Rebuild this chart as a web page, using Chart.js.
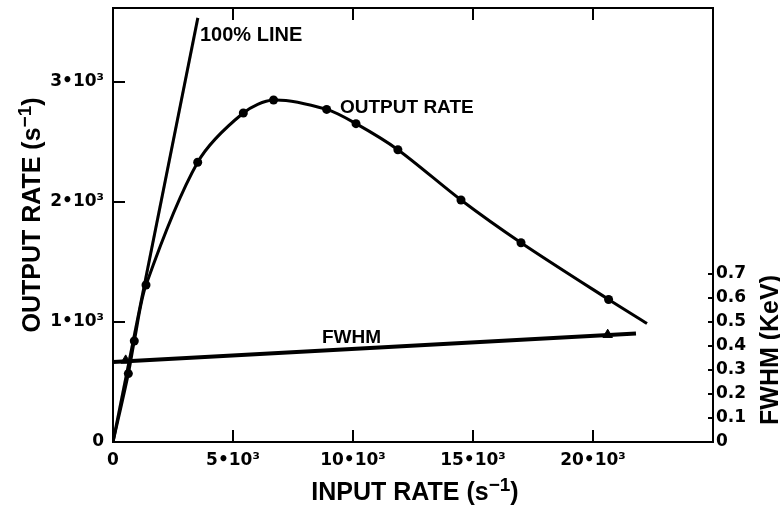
<!DOCTYPE html>
<html><head><meta charset="utf-8">
<script src="https://cdn.jsdelivr.net/npm/chart.js@4.4.1/dist/chart.umd.min.js"></script>
<style>html,body{margin:0;padding:0;background:#fff}#wrap{width:780px;height:512px}</style>
</head><body><div id="wrap"><canvas id="c" width="780" height="512"></canvas></div>
<script>
// ---- data ----
const inputRate  = [0, 639, 887, 1375, 3529, 5430, 6690, 8903, 10125, 11870, 14500, 17000, 20650, 22250];
const outputRate = [0, 570, 842, 1308, 2331, 2742, 2850, 2772, 2653, 2436, 2017, 1661, 1188, 988];
const measuredOutput = [false, true, true, true, true, true, true, true, true, true, true, true, true, false];
const line100Input  = [0, 3535];
const line100Output = [0, 3535];
const fwhmFitInput  = [0, 21790];
const fwhmFitValue  = [0.333, 0.452];
const fwhmInput = [528, 20612];
const fwhmValue = [0.340, 0.447];
const xTicks = [0, 5000, 10000, 15000, 20000];
const xTickLabels = ['0', '5•10³', '10•10³', '15•10³', '20•10³'];
const yTicks = [0, 1000, 2000, 3000];
const yTickLabels = ['0', '1•10³', '2•10³', '3•10³'];
const y2Ticks = [0, 0.1, 0.2, 0.3, 0.4, 0.5, 0.6, 0.7];
const y2TickLabels = ['0', '0.1', '0.2', '0.3', '0.4', '0.5', '0.6', '0.7'];

const LAB = 'bold 25px "Liberation Sans", Arial, sans-serif';
const SUP = 'bold 19px "Liberation Sans", Arial, sans-serif';
const ANN = 'bold 19px "Liberation Sans", Arial, sans-serif';
const ANN100 = 'bold 20px "Liberation Sans", Arial, sans-serif';

function richWidth(ctx, parts) {
  let w = 0;
  parts.forEach(p => { ctx.font = p.f; w += ctx.measureText(p.t).width; });
  return w;
}
function drawRich(ctx, parts, cx, by) {
  let x = cx - richWidth(ctx, parts) / 2;
  parts.forEach(p => {
    ctx.font = p.f;
    ctx.fillText(p.t, x, by - (p.r || 0));
    x += ctx.measureText(p.t).width;
  });
}

const decor = {
  id: 'decor',
  afterDatasetsDraw(chart) {
    const {ctx, chartArea: a, scales} = chart;
    const sx = scales.x, sy = scales.y, sy2 = scales.y2;
    ctx.save();
    ctx.strokeStyle = '#000';
    ctx.fillStyle = '#000';
    ctx.lineWidth = 2;
    ctx.strokeRect(a.left, a.top, a.right - a.left, a.bottom - a.top);
    ctx.beginPath();
    xTicks.forEach(v => {
      if (v === 0) return;
      const px = sx.getPixelForValue(v);
      ctx.moveTo(px, a.bottom); ctx.lineTo(px, a.bottom - 12);
      ctx.moveTo(px, a.top); ctx.lineTo(px, a.top + 12);
    });
    yTicks.forEach(v => {
      if (v === 0) return;
      const py = sy.getPixelForValue(v);
      ctx.moveTo(a.left, py); ctx.lineTo(a.left + 12, py);
    });
    y2Ticks.forEach(v => {
      if (v === 0) return;
      const py = sy2.getPixelForValue(v);
      ctx.moveTo(a.right, py); ctx.lineTo(a.right - 5, py);
    });
    ctx.stroke();

    // annotations
    ctx.textAlign = 'left';
    ctx.textBaseline = 'alphabetic';
    ctx.font = ANN100;
    ctx.fillText('100% LINE', sx.getPixelForValue(3625), sy.getPixelForValue(3342));
    ctx.font = ANN;
    ctx.fillText('OUTPUT RATE', sx.getPixelForValue(9458), sy.getPixelForValue(2742));
    ctx.fillText('FWHM', sx.getPixelForValue(8708), sy2.getPixelForValue(0.4125));

    // axis titles
    const xt = [{t: 'INPUT RATE (s', f: LAB}, {t: '−1', f: SUP, r: 9}, {t: ')', f: LAB}];
    drawRich(ctx, xt, (a.left + a.right) / 2 + 2, 500);
    ctx.save();
    ctx.translate(40, 215);
    ctx.rotate(-Math.PI / 2);
    drawRich(ctx, [{t: 'OUTPUT RATE (s', f: LAB}, {t: '−1', f: SUP, r: 9}, {t: ')', f: LAB}], 0, 0);
    ctx.restore();
    ctx.save();
    ctx.translate(778, 350);
    ctx.rotate(-Math.PI / 2);
    drawRich(ctx, [{t: 'FWHM (KeV)', f: LAB}], 0, 0);
    ctx.restore();
    ctx.restore();
  }
};

const tickFont = {family: '"DejaVu Sans", sans-serif', weight: 'bold', size: 17};
function noPad(s) { s.paddingTop = 0; s.paddingBottom = 0; s.paddingLeft = 0; s.paddingRight = 0; }

new Chart(document.getElementById('c'), {
  type: 'scatter',
  data: {
    datasets: [
      {
        label: 'OUTPUT RATE',
        data: inputRate.map((x, i) => ({x, y: outputRate[i]})),
        showLine: true, tension: 0.3,
        borderColor: '#000', borderWidth: 3,
        pointRadius: measuredOutput.map(m => m ? 4.5 : 0),
        pointBackgroundColor: '#000', pointBorderColor: '#000', pointBorderWidth: 0,
        yAxisID: 'y'
      },
      {
        label: '100% LINE',
        data: line100Input.map((x, i) => ({x, y: line100Output[i]})),
        showLine: true, borderColor: '#000', borderWidth: 3, pointRadius: 0,
        yAxisID: 'y'
      },
      {
        label: 'FWHM',
        data: fwhmFitInput.map((x, i) => ({x, y: fwhmFitValue[i]})),
        showLine: true, borderColor: '#000', borderWidth: 4, pointRadius: 0,
        yAxisID: 'y2'
      },
      {
        label: 'FWHM points',
        data: fwhmInput.map((x, i) => ({x, y: fwhmValue[i]})),
        showLine: false, pointStyle: 'triangle', pointRadius: 5.5,
        pointBackgroundColor: '#000', pointBorderColor: '#000', pointBorderWidth: 1,
        yAxisID: 'y2'
      }
    ]
  },
  options: {
    responsive: false, animation: false, devicePixelRatio: 1,
    layout: {padding: {top: 8, left: 0, right: 0, bottom: 0}},
    plugins: {legend: {display: false}, tooltip: {enabled: false}},
    scales: {
      x: {
        type: 'linear', position: 'bottom', min: 0, max: 25000,
        afterBuildTicks: s => { s.ticks = xTicks.map(v => ({value: v})); },
        afterFit: s => { s.height = 70; noPad(s); },
        ticks: {
          callback: v => xTickLabels[xTicks.indexOf(v)],
          font: tickFont, color: '#000', padding: 8, maxRotation: 0, autoSkip: false
        },
        grid: {display: false, drawTicks: false}, border: {display: false}
      },
      y: {
        type: 'linear', position: 'left', min: 0, max: 3617,
        afterBuildTicks: s => { s.ticks = yTicks.map(v => ({value: v})); },
        afterFit: s => { s.width = 113; noPad(s); },
        ticks: {
          callback: v => yTickLabels[yTicks.indexOf(v)],
          font: tickFont, color: '#000', padding: 9, autoSkip: false
        },
        grid: {display: false, drawTicks: false}, border: {display: false}
      },
      y2: {
        type: 'linear', position: 'right', min: 0, max: 1.808,
        afterBuildTicks: s => { s.ticks = y2Ticks.map(v => ({value: v})); },
        afterFit: s => { s.width = 67; noPad(s); },
        ticks: {
          callback: v => y2TickLabels[y2Ticks.findIndex(t => Math.abs(t - v) < 1e-9)],
          font: tickFont, color: '#000', padding: 3, autoSkip: false
        },
        grid: {display: false, drawTicks: false}, border: {display: false}
      }
    }
  },
  plugins: [decor]
});
</script>
</body></html>
